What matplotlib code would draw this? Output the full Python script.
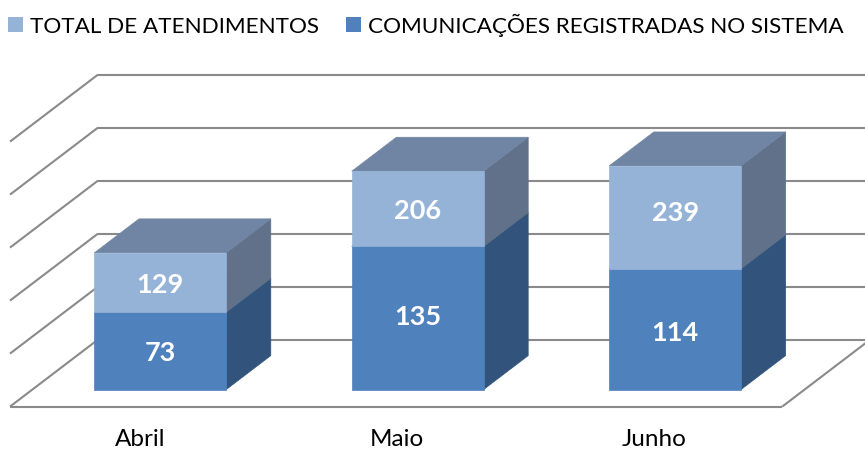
import matplotlib
matplotlib.use("Agg")
import matplotlib.pyplot as plt
from matplotlib.patches import Patch

# --- data ---
categories = ["Abril", "Maio", "Junho"]
comunicacoes = [73, 135, 114]          # blue segment (drawn from 0)
total_top = [129, 206, 211]            # upper edge of the light segment as drawn
total_labels = [129, 206, 239]         # numbers printed on the light segment
comunicacoes_labels = [73, 135, 114]
value_ticks = [0, 50, 100, 150, 200, 250]
series_names = ["TOTAL DE ATENDIMENTOS", "COMUNICAÇÕES REGISTRADAS NO SISTEMA"]

# --- styles / projection ---
W, H = 865, 452
ORIGIN_X, ORIGIN_Y = 10.0, 407.6
CAT_W = 257.4
PX_PER_UNIT = 1.06
DEPTH_X, DEPTH_Y = 88.0, 67.0
BAR_W = 0.512
BAR_CENTER = 0.497
D_FRONT, D_BACK = 0.254, 0.761
GRID = "#8A8A8A"
FONT = ["Lato", "DejaVu Sans"]
LIGHT = dict(front="#95B3D7", top="#7085A3", side="#607189")
DARK = dict(front="#4F81BD", top="#3A5F8C", side="#32547C")
DY_TOTAL = [1, 1, -5]
DY_COM = [1, -2, 3]


def project(cat, value, depth):
    """cat in category units, value in axis units, depth 0..1 -> canvas position."""
    return (ORIGIN_X + CAT_W * cat + DEPTH_X * depth,
            ORIGIN_Y - PX_PER_UNIT * value - DEPTH_Y * depth)


fig = plt.figure(figsize=(W / 100, H / 100), dpi=100)
ax = fig.add_axes([0, 0, 1, 1])
ax.set_xlim(0, W)
ax.set_ylim(H, 0)
ax.axis("off")


def line(p, q, z=1):
    ax.plot([p[0], q[0]], [p[1], q[1]], color=GRID, lw=1.5, zorder=z,
            solid_capstyle="butt", solid_joinstyle="miter")


# gridlines: side wall + back wall
n = len(categories)
for v in value_ticks:
    a, b, c = project(0, v, 0), project(0, v, 1), project(n, v, 1)
    line(a, b)
    line(b, c)
# floor front and right edges
line(project(0, 0, 0), project(n, 0, 0))
line(project(n, 0, 0), project(n, 0, 1))


def box(i, v0, v1, colors, z):
    c0, c1 = i + BAR_CENTER - BAR_W / 2, i + BAR_CENTER + BAR_W / 2
    front = [project(c0, v0, D_FRONT), project(c1, v0, D_FRONT),
             project(c1, v1, D_FRONT), project(c0, v1, D_FRONT)]
    side = [project(c1, v0, D_FRONT), project(c1, v0, D_BACK),
            project(c1, v1, D_BACK), project(c1, v1, D_FRONT)]
    top = [project(c0, v1, D_FRONT), project(c1, v1, D_FRONT),
           project(c1, v1, D_BACK), project(c0, v1, D_BACK)]
    for pts, key in ((side, "side"), (top, "top"), (front, "front")):
        ax.fill(*zip(*pts), facecolor=colors[key], edgecolor=colors[key],
                lw=0.5, zorder=z)


for i in range(n):
    box(i, 0, comunicacoes[i], DARK, 3)
    box(i, comunicacoes[i], total_top[i], LIGHT, 4)
    xm, ym = project(i + BAR_CENTER, comunicacoes[i] / 2, D_FRONT)
    ax.text(xm, ym + DY_COM[i], str(comunicacoes_labels[i]), color="white",
            fontsize=19.5, fontweight="bold", family=FONT, ha="center",
            va="center", zorder=6)
    xm, ym = project(i + BAR_CENTER, (comunicacoes[i] + total_top[i]) / 2, D_FRONT)
    ax.text(xm, ym + DY_TOTAL[i], str(total_labels[i]), color="white",
            fontsize=19.5, fontweight="bold", family=FONT, ha="center",
            va="center", zorder=6)
    xl, _ = project(i + 0.5, 0, 0)
    ax.text(xl + 1, 446.5, categories[i], color="#000000", fontsize=17.5, family=FONT,
            ha="center", va="baseline", zorder=6)

handles = [Patch(facecolor=LIGHT["front"], edgecolor="none", label=series_names[0]),
           Patch(facecolor=DARK["front"], edgecolor="none", label=series_names[1])]
ax.legend(handles=handles, ncol=2, loc="upper left", frameon=False,
          bbox_to_anchor=(8 / W, 1 - 14 / H), borderaxespad=0, borderpad=0,
          prop={"family": FONT, "size": 16.2}, handlelength=0.66, handleheight=0.66,
          handletextpad=0.32, columnspacing=1.2)

fig.savefig("out.png", dpi=100)
